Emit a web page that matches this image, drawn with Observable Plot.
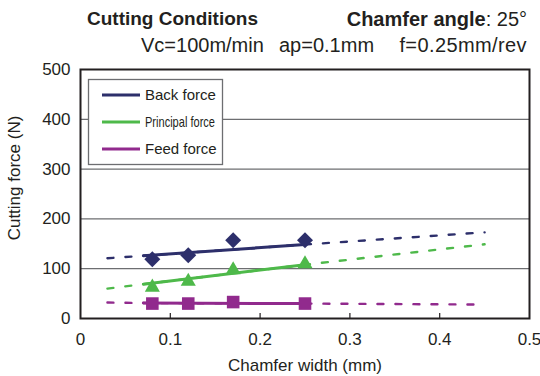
<!DOCTYPE html>
<html><head><meta charset="utf-8">
<script src="https://cdn.jsdelivr.net/npm/d3@7"></script>
<script src="https://cdn.jsdelivr.net/npm/@observablehq/plot@0.6"></script>
<style>
body{margin:0;background:#fff;font-family:"Liberation Sans",Arial,sans-serif;color:#231f20}
#wrap{position:relative;width:540px;height:376px;overflow:hidden}
#title{position:relative;width:540px;height:60px}
.t{position:absolute;white-space:pre;line-height:1}
#chart svg{display:block}
</style></head><body>
<div id="wrap">
<div id="title">
 <div class="t" style="left:87px;top:9px;font-size:19px;font-weight:bold">Cutting Conditions</div>
 <div class="t" style="right:13px;top:8.5px;font-size:20px"><b>Chamfer angle</b>: 25°</div>
 <div class="t" style="left:141px;top:35px;font-size:20px">Vc=100m/min</div>
 <div class="t" style="left:279px;top:35px;font-size:20px">ap=0.1mm</div>
 <div class="t" style="right:13px;top:35px;font-size:20px;letter-spacing:0.4px">f=0.25mm/rev</div>
</div>
<div id="chart"></div>
</div>
<script>
// ---- data ----
const chamferWidth = [0.08, 0.12, 0.17, 0.25];
const backForce = [119, 127, 157, 157];
const principalForce = [67, 79, 102, 114];
const feedForce = [30, 30, 33, 30];

// fitted trend lines (solid between 0.07 and 0.25, dashed extrapolation)
const trendWidth = [0.03, 0.07, 0.25, 0.45];
const backTrend = [121, 126, 148.5, 173];
const principalTrend = [60, 69, 108, 149];
const feedTrend = [32, 31, 30, 28];

const seriesNames = ["Back force", "Principal force", "Feed force"];
const seriesColors = ["#2d2f6b", "#4eb94a", "#912a8d"];

const xTicks = [0, 0.1, 0.2, 0.3, 0.4, 0.5];
const xInnerTicks = [0.1, 0.2, 0.3, 0.4];
const yTicks = [0, 100, 200, 300, 400, 500];
const yGrid = [100, 200, 300, 400];
const xLabel = "Chamfer width (mm)";
const yLabel = "Cutting force (N)";

// ---- build ----
const pts = (ys) => chamferWidth.map((x, i) => ({x, y: ys[i]}));
const trend = (ys) => trendWidth.map((x, i) => ({x, y: ys[i]}));
const solid = (ys) => trend(ys).slice(1, 3);

const bboxTriangle = {
  draw(ctx, size) {
    const s = Math.sqrt(size * 4 / Math.sqrt(3));
    const h = s * Math.sqrt(3) / 2;
    ctx.moveTo(0, -h / 2);
    ctx.lineTo(s / 2, h / 2);
    ctx.lineTo(-s / 2, h / 2);
    ctx.closePath();
  }
};

const trends = [backTrend, principalTrend, feedTrend];
const values = [backForce, principalForce, feedForce];
const symbols = ["diamond2", bboxTriangle, "square"];
const radii = [7.2, 5.6, 7.1];

const fmt = d => d === 0 ? "0" : d3.format(".1f")(d);

const marks = [
  Plot.ruleY(yGrid, {stroke: "#6d6e71", strokeWidth: 1.2})
];
trends.forEach((t, i) => {
  marks.push(Plot.line(trend(t), {x: "x", y: "y", stroke: seriesColors[i], strokeWidth: 2.4, strokeDasharray: "6,12"}));
});
trends.forEach((t, i) => {
  marks.push(Plot.line(solid(t), {x: "x", y: "y", stroke: seriesColors[i], strokeWidth: 3}));
});
values.forEach((v, i) => {
  marks.push(Plot.dot(pts(v), {x: "x", y: "y", fill: seriesColors[i], stroke: "none", symbol: symbols[i], r: radii[i]}));
});
marks.push(
  Plot.frame({stroke: "#231f20", strokeWidth: 2}),
  Plot.axisX({ticks: xTicks, tickSize: 0, tickPadding: 14, tickFormat: fmt, label: null}),
  Plot.axisX({ticks: xInnerTicks, tickSize: 5, dy: -5, text: null, label: null, strokeWidth: 1.2}),
  Plot.axisY({ticks: yTicks, tickSize: 0, tickPadding: 10, label: null}),
  Plot.text([xLabel], {frameAnchor: "bottom", dy: 47, lineAnchor: "middle", textAnchor: "middle", fontSize: 17}),
  Plot.text([yLabel], {frameAnchor: "left", rotate: -90, dx: -66, dy: -16, lineAnchor: "middle", textAnchor: "middle", fontSize: 17})
);

const chart = Plot.plot({
  width: 540, height: 316,
  marginTop: 9, marginBottom: 58, marginLeft: 80, marginRight: 11,
  style: {fontFamily: "'Liberation Sans', Arial, sans-serif", fontSize: "17px", color: "#231f20", background: "#fff", overflow: "visible"},
  x: {domain: [0, 0.5]},
  y: {domain: [0, 500]},
  marks
});

// legend overlay
const g = d3.select(chart).append("g").attr("class", "legend").attr("text-anchor", "start");
g.append("rect").attr("x", 88.5).attr("y", 19.5).attr("width", 134).attr("height", 85)
  .attr("fill", "#fff").attr("stroke", "#6d6e71").attr("stroke-width", 1.3);
seriesNames.forEach((name, i) => {
  const y = 35 + 27 * i;
  g.append("line").attr("x1", 102).attr("x2", 140).attr("y1", y).attr("y2", y)
    .attr("stroke", seriesColors[i]).attr("stroke-width", 3);
  const t = g.append("text").attr("x", 145).attr("y", y).attr("dy", "0.35em")
    .attr("text-anchor", "start").attr("font-size", 15).attr("fill", "#231f20").text(name);
  if (name === "Principal force") t.attr("textLength", 70).attr("lengthAdjust", "spacingAndGlyphs");
});

document.getElementById("chart").append(chart);
</script>
</body></html>
